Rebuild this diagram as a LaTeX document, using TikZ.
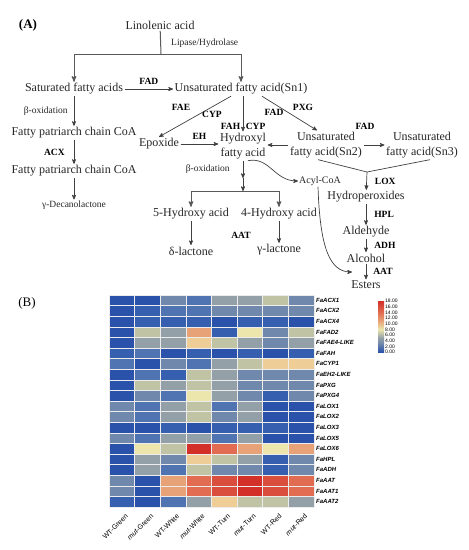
\documentclass[tikz,border=0pt]{standalone}
\usepackage{fontspec}
\setmainfont{Liberation Serif}
\setsansfont{Liberation Sans}
\usetikzlibrary{arrows,positioning}
\definecolor{hm0}{RGB}{42,82,170}
\definecolor{hm1}{RGB}{55,95,175}
\definecolor{hm2}{RGB}{80,115,178}
\definecolor{hm3}{RGB}{112,136,172}
\definecolor{hm4}{RGB}{148,160,168}
\definecolor{hm5}{RGB}{192,196,165}
\definecolor{hm6}{RGB}{236,230,172}
\definecolor{hm7}{RGB}{238,205,150}
\definecolor{hm8}{RGB}{232,162,120}
\definecolor{hm9}{RGB}{225,108,82}
\definecolor{hm10}{RGB}{218,78,62}
\definecolor{hm11}{RGB}{212,48,42}
\begin{document}
\begin{tikzpicture}[x=1pt,y=-1pt,>=stealth',
    lbl/.style={font=\fontsize{12}{15}\selectfont,align=center,inner sep=1.5pt,text=black!85},
    sm/.style={font=\fontsize{9.5}{11}\selectfont,inner sep=1pt,text=black!85},
    en/.style={font=\bfseries\fontsize{9.5}{11}\selectfont,inner sep=1pt},
    conn/.style={->,line width=0.7pt,draw=black!75},
    bar/.style={line width=1pt,draw=black!65},
    cell/.style={draw=white!85!gray,line width=0.4pt},
    gene/.style={font=\sffamily\bfseries\itshape\fontsize{6}{7}\selectfont,anchor=west,inner sep=0pt},
    stage/.style={font=\sffamily\fontsize{7}{8}\selectfont,rotate=45,anchor=east,inner sep=0pt},
    tick/.style={font=\sffamily\fontsize{5}{5}\selectfont,anchor=west,inner sep=0pt}]
  \useasboundingbox (0,0) rectangle (469,550);

  % (A) pathway
  \node[font=\bfseries\fontsize{13}{15}\selectfont] (pA) at (28,25) {(A)};
  \node[lbl] (lin)    at (160,25)  {Linolenic acid};
  \node[sm,anchor=west] (lipase) at (170,43) {Lipase/Hydrolase};
  \node[lbl] (sat)    at (74,89)   {Saturated fatty acids};
  \node[lbl] (sn1)    at (241,89)  {Unsaturated fatty acid(Sn1)};
  \node[lbl] (coa1)   at (74,133)  {Fatty patriarch chain CoA};
  \node[lbl] (coa2)   at (74,171)  {Fatty patriarch chain CoA};
  \node[sm]  (deca)   at (74,205)  {γ-Decanolactone};
  \node[lbl] (epox)   at (159,144) {Epoxide};
  \node[lbl] (hydrox) at (243,146) {Hydroxyl\\fatty acid};
  \node[lbl] (sn2)    at (326,145) {Unsaturated\\fatty acid(Sn2)};
  \node[lbl] (sn3)    at (422,145) {Unsaturated\\fatty acid(Sn3)};
  \node[sm,font=\fontsize{10}{12}\selectfont] (acyl) at (320,181) {Acyl-CoA};
  \node[lbl] (hperox) at (366,197) {Hydroperoxides};
  \node[lbl] (aldeh)  at (366,232) {Aldehyde};
  \node[lbl] (alcoh)  at (366,258) {Alcohol};
  \node[lbl] (esters) at (366,285) {Esters};
  \node[lbl] (hy5)    at (191,214) {5-Hydroxy acid};
  \node[lbl] (hy4)    at (279,214) {4-Hydroxy acid};
  \node[lbl] (dlac)   at (191,251) {δ-lactone};
  \node[lbl] (glac)   at (279,250) {γ-lactone};

  \coordinate (split) at (161,54);
  \coordinate (jn)    at (367,172);
  \coordinate (boxm)  at (243,178);
  \coordinate (bsplit) at (243,191);
  \coordinate (acin)  at (352,272);

  % enzyme labels
  \node[en] (faeL)  at (181,107) {FAE};
  \node[en] (cypL)  at (212,114) {CYP};
  \node[en] (fad2L) at (274,112) {FAD};
  \node[en] (pxgL)  at (303,107) {PXG};
  \node[en] (fad3L) at (365,126) {FAD};
  \node[en] (aatL)  at (241,235) {AAT};

  \draw[bar] (lin) -- (split);
  \draw[bar,->] (split) -| (sat);
  \draw[bar,->] (split) -| (sn1);
  \draw[conn] (sat) -- node[en,above=3pt]{FAD} (sn1);
  \draw[conn] (sat) -- node[sm,left=5pt]{β-oxidation} (coa1);
  \draw[conn] (coa1) -- node[en,left=8pt]{ACX} (coa2);
  \draw[conn] (coa2) -- (deca);

  \draw[conn] ([xshift=-10pt]sn1.south) -- (epox.north);
  \draw[conn] (sn1.south -| hydrox) -- node[en,pos=.85,left=1.5pt]{FAH} node[en,pos=.85,right=1.5pt]{CYP} (hydrox);
  \draw[conn] ([xshift=21pt]sn1.south) -- ([xshift=-9pt]sn2.north);
  \draw[conn] (epox) -- node[en,above=3pt]{EH} (epox -| hydrox.west);
  \draw[conn] (sn2.west) -- (sn2.west -| hydrox.east);
  \draw[conn] (sn2) -- (sn3);
  \draw[line width=0.7pt,black!75] ([xshift=-8pt]sn2.south) -- (jn) -- ([xshift=8pt]sn3.south);
  \draw[conn] (jn) -- node[en,right=7pt]{LOX} (hperox);
  \draw[conn] (hperox) -- node[en,right=7pt]{HPL} (aldeh);
  \draw[conn] (aldeh) -- node[en,right=7pt]{ADH} (alcoh);
  \draw[conn] (alcoh) -- node[en,right=6pt]{AAT} (esters);

  \draw[conn] ([xshift=5pt]hydrox.south) .. controls +(22,-4) and +(-24,0) .. (acyl.west);
  \draw[conn] ([xshift=-2pt]acyl.south) .. controls +(2,62) and +(-22,0) .. (acin);

  \draw[conn] (hydrox) -- node[sm,left=12pt]{β-oxidation} (boxm);
  \draw[conn] (boxm) -- (bsplit);
  \draw[bar,->] (bsplit) -| (hy5);
  \draw[bar,->] (bsplit) -| (hy4);
  \draw[conn] (hy5) -- (dlac);
  \draw[conn] (hy4) -- (glac);

  % (B) heatmap
  \node[font=\fontsize{13}{15}\selectfont] (pB) at (27,303) {(B)};
  \foreach \vals [count=\r] in {
      {0,0,3,2,4,4,5,3},{0,1,2,2,3,3,3,3},{0,1,1,1,0,1,1,0},{0,5,4,8,1,6,3,5},
      {0,4,4,7,5,4,3,4},{1,2,0,1,0,1,0,1},{2,0,3,2,4,5,7,7},{0,2,1,5,4,3,3,3},
      {0,5,4,5,4,3,3,3},{0,3,2,6,4,3,1,3},{3,2,4,5,2,4,0,0},{3,2,4,5,3,4,0,0},
      {0,0,1,0,1,1,1,0},{3,2,4,4,2,4,0,0},{0,6,5,11,9,8,6,8},{0,4,3,7,5,4,1,3},
      {0,4,2,5,3,3,1,3},{3,0,8,9,10,11,10,9},{3,0,8,9,10,11,10,9},{1,0,2,4,7,5,5,4}}
    \foreach \v [count=\c] in \vals
      \filldraw[cell,fill=hm\v] ({109+(\c-1)*25.6},{295+(\r-1)*10.6}) rectangle ++(25.6,10.6);

  \foreach \g [count=\r] in {FaACX1,FaACX2,FaACX4,FaFAD2,FaFAE4-LIKE,FaFAH,FaCYP1,
      FaEH2-LIKE,FaPXG,FaPXG4,FaLOX1,FaLOX2,FaLOX3,FaLOX5,FaLOX6,FaHPL,FaADH,
      FaAAT,FaAAT1,FaAAT2}
    \node[gene] (g\r) at (316,{295+(\r-0.5)*10.6}) {\g};

  \foreach \s [count=\c] in {WT-Green,\textit{mut}-Green,WT-White,\textit{mut}-White,
      WT-Turn,\textit{mut}-Turn,WT-Red,\textit{mut}-Red}
    \node[stage] (s\c) at ({109+(\c-0.5)*25.6+5},515) {\s};

  % colour bar
  \shade[bottom color=hm0,top color=hm3] (378,352) rectangle (384,{352-3*2.833});
  \shade[bottom color=hm3,top color=hm4] (378,{352-3*2.833}) rectangle (384,{352-5*2.833});
  \shade[bottom color=hm4,top color=hm6] (378,{352-5*2.833}) rectangle (384,{352-8*2.833});
  \shade[bottom color=hm6,top color=hm8] (378,{352-8*2.833}) rectangle (384,{352-11*2.833});
  \shade[bottom color=hm8,top color=hm9] (378,{352-11*2.833}) rectangle (384,{352-14*2.833});
  \shade[bottom color=hm9,top color=hm11] (378,{352-14*2.833}) rectangle (384,301);
  \foreach \t in {0,2,...,18}
    \node[tick] (t\t) at (385,{352-\t*2.833}) {\t.00};
\end{tikzpicture}
\end{document}
